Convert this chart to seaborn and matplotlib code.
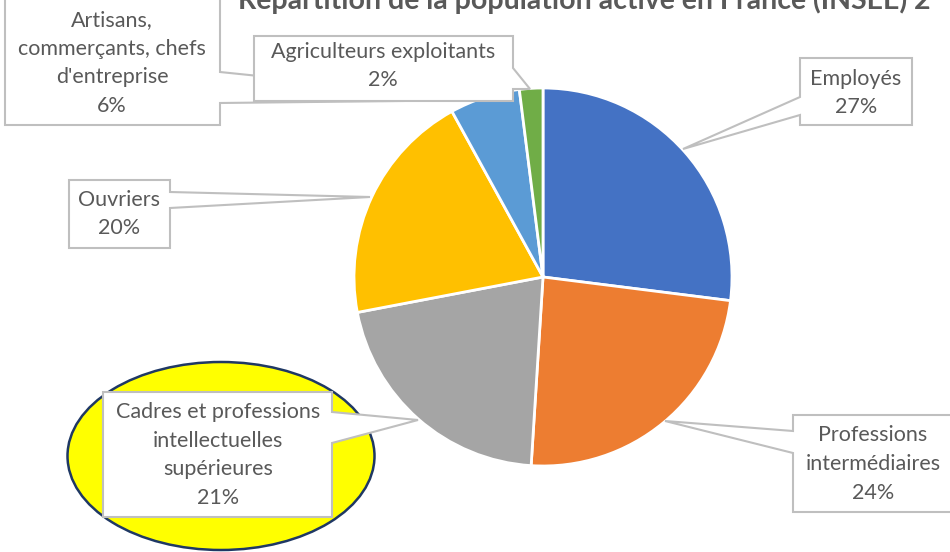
import matplotlib
matplotlib.use("Agg")
import matplotlib.pyplot as plt
from matplotlib.patches import Polygon, Ellipse
import seaborn as sns

# ---- data ----
categories = ["Employés", "Professions intermédiaires",
              "Cadres et professions intellectuelles supérieures",
              "Ouvriers", "Artisans, commerçants, chefs d'entreprise",
              "Agriculteurs exploitants"]
values = [27, 24, 21, 20, 6, 2]
label_texts = ["Employés\n27%", "Professions\nintermédiaires\n24%",
               "Cadres et professions\nintellectuelles\nsupérieures\n21%",
               "Ouvriers\n20%", "Artisans,\ncommerçants, chefs\nd'entreprise\n6%",
               "Agriculteurs exploitants\n2%"]
title = "Répartition de la population active en France (INSEE) 2"
colors = ["#4472C4", "#ED7D31", "#A5A5A5", "#FFC000", "#5B9BD5", "#70AD47"]

sns.set_theme(style="white")
plt.rcParams['font.family'] = ['Lato', 'DejaVu Sans']

W, H = 950, 552
fig = plt.figure(figsize=(W / 100, H / 100), dpi=100)
ax = fig.add_axes([0, 0, 1, 1])

def Y(py):
    return H - py

# highlight ellipse
ax.add_patch(Ellipse((221, Y(456)), 307, 188, facecolor="#FFFF00",
                     edgecolor="#1F3864", lw=1.8, zorder=1))

palette = sns.color_palette(colors)
ax.pie(values, colors=palette, startangle=90, counterclock=False,
       center=(543, Y(277)), radius=189,
       wedgeprops=dict(edgecolor="white", linewidth=2, zorder=2))

TXT = "#595959"
BORDER = "#BFBFBF"

def callout(box, side, base, tip, text, tc, z):
    x0, y0, x1, y1 = box
    pts = [(x0, y0), (x1, y0)]
    if side == "right":
        pts += [(x1, base[0]), tip, (x1, base[1])]
    pts += [(x1, y1), (x0, y1)]
    if side == "left":
        pts += [(x0, base[1]), tip, (x0, base[0])]
    poly = Polygon([(x, Y(y)) for x, y in pts], closed=True,
                   facecolor="white", edgecolor=BORDER, lw=1.5, zorder=z)
    ax.add_patch(poly)
    ax.text(tc[0], Y(tc[1]), text, ha="center", va="center",
            multialignment="center", color=TXT, fontsize=15.5,
            linespacing=1.55, zorder=z + 0.1)

# Employés
callout((800, 58, 912, 125), "left", (97, 115), (683, 149), label_texts[0], (856, 93), 5)
# Professions intermédiaires
callout((793, 415, 953, 512), "left", (431, 453), (665, 421), label_texts[1], (873, 464), 5)
# Cadres
callout((103, 392, 332, 517), "right", (412, 443), (418, 420), label_texts[2], (218, 455), 5)
# Ouvriers
callout((69, 180, 170, 248), "right", (192, 208), (370, 197), label_texts[3], (119, 214), 5)
# Artisans
callout((5, -5, 220, 125), "right", (72, 103), (492, 100), label_texts[4], (112, 63), 5)
# Agriculteurs
callout((254, 36, 513, 101), "right", (68, 89), (530, 89), label_texts[5], (383, 66), 6)

ax.text(238, Y(9), title, ha="left", va="baseline", color=TXT,
        fontsize=20.5, fontweight="bold", zorder=7)

ax.set_xlim(0, W)
ax.set_ylim(0, H)
ax.set_aspect("equal")
ax.axis("off")

fig.savefig("out.png", dpi=100)
